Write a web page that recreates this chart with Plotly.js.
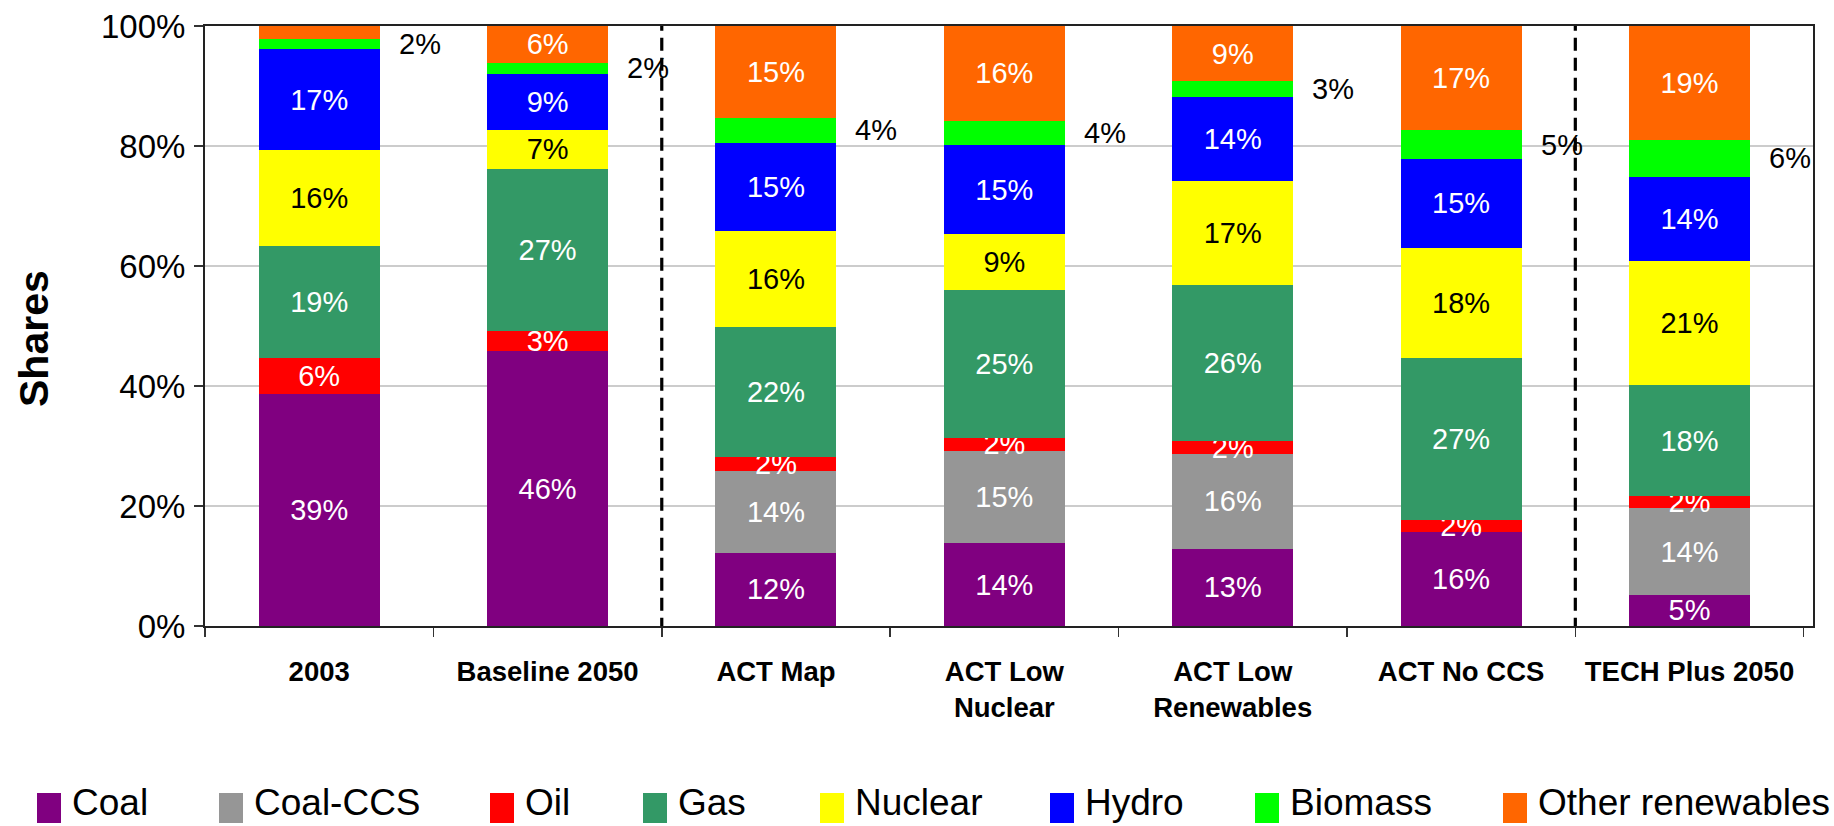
<!DOCTYPE html>
<html>
<head>
<meta charset="utf-8">
<script src="https://cdn.plot.ly/plotly-3.0.1.min.js"></script>
<style>
html,body{margin:0;padding:0;background:#fff;}
#chart{width:1834px;height:826px;}
</style>
</head>
<body>
<div id="chart"></div>
<script>
// ---- data (shares in %) ----
const categories = ['2003', 'Baseline 2050', 'ACT Map', 'ACT Low<br>Nuclear', 'ACT Low<br>Renewables', 'ACT No CCS', 'TECH Plus 2050'];
const seriesNames = ['Coal', 'Coal-CCS', 'Oil', 'Gas', 'Nuclear', 'Hydro', 'Biomass', 'Other renewables'];
const seriesColors = ['#800080', '#969696', '#FF0000', '#339966', '#FFFF00', '#0000FF', '#00FF00', '#FF6600'];
const labelColors = ['#FFFFFF', '#FFFFFF', '#FFFFFF', '#FFFFFF', '#000000', '#FFFFFF', '#000000', '#FFFFFF'];
const coal     = [38.6, 45.8, 12.2, 13.8, 12.9, 15.7, 5.2];
const coalCCS  = [0,    0,    13.6, 15.4, 15.8, 0,    14.4];
const oil      = [6.1,  3.4,  2.3,  2.2,  2.1,  2.0,  2.1];
const gas      = [18.6, 27.0, 21.8, 24.6, 26.0, 26.9, 18.4];
const nuclear  = [16.0, 6.5,  16.0, 9.3,  17.4, 18.4, 20.8];
const hydro    = [16.9, 9.3,  14.6, 14.9, 13.9, 14.9, 14.0];
const biomass  = [1.6,  1.9,  4.2,  4.0,  2.7,  4.7,  6.1];
const otherRen = [2.2,  6.1,  15.3, 15.8, 9.2,  17.4, 19.0];
const series = [coal, coalCCS, oil, gas, nuclear, hydro, biomass, otherRen];
// smallest share labelled inside its segment (biomass is labelled beside the bar)
const insideMin = [2, 2, 1.5, 2, 2, 2, Infinity, 3];

// ---- styling ----
const REG = '"Liberation Sans", Arial, sans-serif';
const W = 1834, H = 826;
const M = {l: 205, r: 21, t: 26, b: 200};
const PW = W - M.l - M.r, PH = H - M.t - M.b;
const px = x => (x - M.l) / PW;
const py = y => (H - M.b - y) / PH;

const traces = series.map((vals, k) => ({
  type: 'bar',
  name: seriesNames[k],
  x: categories,
  y: vals,
  width: 0.53,
  marker: {color: seriesColors[k], line: {width: 0}},
  text: vals.map(v => v >= insideMin[k] ? Math.round(v) + '%' : ''),
  textposition: 'inside',
  insidetextanchor: 'middle',
  textangle: 0,
  constraintext: 'none',
  textfont: {family: REG, size: 29, color: labelColors[k]},
  hoverinfo: 'name+y',
  showlegend: false
}));

// biomass values written beside each bar
const annotations = categories.map((c, i) => {
  let below = 0;
  for (let k = 0; k < 6; k++) below += series[k][i];
  return {
    xref: 'x', yref: 'y', x: i + 0.44, y: below + biomass[i] / 2,
    text: Math.round(biomass[i]) + '%', showarrow: false,
    xanchor: 'center', yanchor: 'middle',
    font: {family: REG, size: 29, color: '#000'}
  };
});

// y-axis title
annotations.push({
  xref: 'paper', yref: 'paper', x: px(34), y: py(339),
  xanchor: 'center', yanchor: 'middle', textangle: -90, showarrow: false,
  text: 'Shares', font: {family: REG, size: 41, color: '#000', weight: 700}
});

// legend (drawn below the plot)
const legendLeft = [37, 219, 490, 643, 820, 1050, 1255, 1503];
const shapes = [];
seriesNames.forEach((n, k) => {
  shapes.push({
    type: 'rect', xref: 'paper', yref: 'paper', layer: 'above',
    x0: px(legendLeft[k]), x1: px(legendLeft[k] + 24),
    y0: py(823), y1: py(793),
    fillcolor: seriesColors[k], line: {width: 0}
  });
  annotations.push({
    xref: 'paper', yref: 'paper', x: px(legendLeft[k] + 33), y: py(825),
    xanchor: 'left', yanchor: 'bottom', showarrow: false,
    text: n, font: {family: REG, size: 37, color: '#000'}
  });
});

// dashed separators between scenario groups
[1.5, 5.5].forEach(xv => shapes.push({
  type: 'line', xref: 'x', yref: 'y', x0: xv, x1: xv, y0: -0.8, y1: 100,
  layer: 'above', line: {color: '#000', width: 3.2, dash: '13px,7px'}
}));

const layout = {
  width: W, height: H,
  margin: M,
  paper_bgcolor: '#fff', plot_bgcolor: '#fff',
  barmode: 'stack',
  bargap: 0.47,
  showlegend: false,
  uniformtext: {mode: 'show', minsize: 29},
  xaxis: {
    type: 'category',
    tickson: 'boundaries',
    ticks: 'outside', ticklen: 9, tickwidth: 1.5, tickcolor: '#333',
    showline: true, linecolor: '#222', linewidth: 2, mirror: true,
    showgrid: false, zeroline: false,
    ticklabelstandoff: 20,
    tickfont: {family: REG, size: 27.5, color: '#000', weight: 700},
    fixedrange: true
  },
  yaxis: {
    range: [0, 100], dtick: 20, ticksuffix: '%',
    ticks: 'outside', ticklen: 9, tickwidth: 1.5, tickcolor: '#333',
    showline: true, linecolor: '#222', linewidth: 2, mirror: true,
    showgrid: true, gridcolor: '#cccccc', gridwidth: 1.5,
    zeroline: false,
    ticklabelstandoff: 2,
    tickfont: {family: REG, size: 33, color: '#000'},
    fixedrange: true
  },
  shapes: shapes,
  annotations: annotations
};

Plotly.newPlot('chart', traces, layout, {displayModeBar: false, staticPlot: true});
</script>
</body>
</html>
